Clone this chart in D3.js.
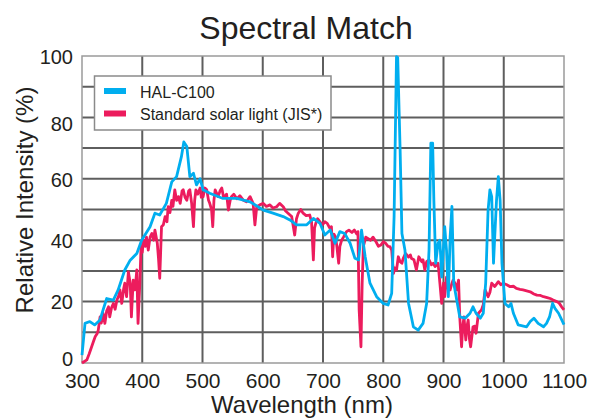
<!DOCTYPE html>
<html>
<head>
<meta charset="utf-8">
<script src="https://cdn.jsdelivr.net/npm/d3@7"></script>
<style>
  html, body { margin: 0; padding: 0; background: #fff; }
  svg { display: block; }
  text { font-family: "Liberation Sans", Arial, sans-serif; fill: #231f20; }
</style>
</head>
<body>
<svg id="chart" width="599" height="418"></svg>
<script>
// ---- data ----
const xTicks = [300, 400, 500, 600, 700, 800, 900, 1000, 1100];
const yTicks = [0, 20, 40, 60, 80, 100];
const seriesNames = ["HAL-C100", "Standard solar light (JIS*)"];

const halWavelength = [300,305,313,321,330,335,341,352,360,371,380,391,399,413,421,429,440,449,457,465,469,474,479,485,490,496,501,512,534,557,579,601,617,634,645,656,673,684,695,703,712,720,728,736,745,753,759,764,770,778,789,800,808,814,818,822,824,828,831,836,842,850,858,866,872,876,879,882,884,887,891,894,897,900,902,905,908,911,914,917,922,927,936,944,949,954,961,966,970,974,977,980,983,985,988,991,994,997,1002,1008,1012,1016,1024,1038,1044,1050,1057,1066,1071,1076,1081,1085,1091,1099,1100];
const halIntensity = [2.6,12.9,13.5,12.4,14,17.3,21,20.5,23.8,30.3,33.5,35.7,40,44.4,48.8,48.2,52,59,60.7,67.2,72,70.5,60.7,61.8,58,60,56.4,55.3,53.6,53.6,52.5,49.8,48.8,47.7,46.6,45,45,47.1,45.5,41.7,43.3,39,42.8,42.2,39,34.1,33.6,43.3,34.6,26,21.6,19.4,18.9,22.7,47.7,99.8,99.5,69.4,42.2,36.8,19.4,11.8,10.7,12.9,19.4,36.8,71.6,71.6,53,32.5,39,40,28,37.9,44.4,36.8,21.6,41,51,26,20.5,15,14.6,16.2,18.3,16.2,14.6,16.2,26,49.8,56.4,54.2,32.5,41,53,60.7,53,32.5,19.4,18.3,19.4,16.2,12.4,11.8,13.5,14.6,12.9,11.8,12.9,15,19.4,17.8,16.2,12.9,12.5];

const jisWavelength = [300,304,308,312,316,319,322,325,327,330,332,335,338,341,344,346,349,352,355,358,361,363,366,369,371,374,377,380,382,385,388,391,393,396,398,400,402,405,407,410,413,416,419,421,425,427,429,432,435,438,441,443,446,449,451,454,457,460,463,466,468,471,474,477,479,482,485,487,489,492,496,498,501,504,507,510,512,515,517,519,521,524,526,529,532,535,537,540,543,546,548,552,557,562,568,573,579,584,587,590,595,601,606,612,617,623,628,634,638,642,648,653,656,659,663,667,672,678,681,684,686,688,691,695,699,703,707,711,714,716,718,721,723,726,728,731,734,739,743,748,752,756,758,760,763,765,767,771,775,779,783,788,792,796,800,804,808,811,814,817,819,822,825,828,831,833,837,842,845,847,851,855,859,864,866,869,872,876,880,883,886,891,894,897,900,902,905,908,911,914,916,919,922,925,927,930,932,934,937,939,941,943,945,949,952,954,958,963,966,969,974,977,980,985,991,995,999,1005,1010,1016,1021,1027,1032,1038,1044,1050,1055,1061,1066,1072,1077,1082,1088,1092,1096,1100];
const jisIntensity = [0,0.5,1,3,5.3,7,8.6,9.5,10.7,15,13,16.2,12.9,17,18.3,15,18,19.4,17.5,20.5,22,23.8,19.4,24,26,21.6,29.7,26,15,27,23.8,30.3,12.9,26,37.9,36,40,38,41,36.8,41,42.2,40,43.3,39,34,27.6,44.4,45,47.7,46,50.9,49,53,51,56.4,53,54.2,52,56,56.4,54,53,56,56.4,52,44.4,53,56.4,55,57,54,54.2,57,56.4,53,52,50,44.4,53,56.4,55,54.2,56,57,54,54.2,55,49.8,53,54.2,55,53.5,54.5,53,52.5,54.2,52,45,50.9,51.5,52,51,51.5,50.5,50.9,52,50.9,49.5,48.8,47.7,41.7,47,48.8,50,48.8,48,48.2,46,33.6,44,45.5,47,46,45,46,45.5,44,44.4,34.6,42,41,38,32.5,38,40,41,42.8,43.3,42.5,43.3,42,42.8,17.3,5.3,26,38,41,40.5,40,41,39.5,38,38.4,39.5,39,38,37.9,36.8,29.2,31,30.3,34.6,33,32.5,34,35.7,34.5,35.2,34,33.6,30.3,34.6,33,33.6,30.3,33,33.6,32,32.5,31.4,32.5,26,19.4,26,21.6,28,24,23.8,26,27,26,23.8,27,15,5.3,12,15,7.5,12,14,8,5.3,11.8,12,9.7,16.2,17.3,19,23.8,21.6,23,26,24.9,26.5,25.5,26,25.5,24.9,25,24.3,24,23.8,23.5,23.2,22.5,22.1,22,21.6,21.3,21,20.5,20,19.5,18.3,17.3];

const colors = ["#00aeef", "#ec1c5d"];

// ---- layout ----
const svg = d3.select("#chart");
const L = 82, T = 56, R = 564, B = 363;
const x = d3.scaleLinear().domain([300, 1100]).range([L, R]);
const y = d3.scaleLinear().domain([0, 100]).range([B, T]);

// grid
const grid = svg.append("g");
grid.selectAll("line.v").data(d3.range(400, 1100, 100)).join("line")
  .attr("x1", d => x(d)).attr("x2", d => x(d)).attr("y1", T).attr("y2", B)
  .attr("stroke", "#5e5e5e").attr("stroke-width", 2);
grid.selectAll("line.h").data(d3.range(10, 100, 10)).join("line")
  .attr("y1", d => y(d)).attr("y2", d => y(d)).attr("x1", L).attr("x2", R)
  .attr("stroke", "#5e5e5e").attr("stroke-width", 2);
svg.append("rect").attr("x", L).attr("y", T).attr("width", R - L).attr("height", B - T)
  .attr("fill", "none").attr("stroke", "#9a9a9a").attr("stroke-width", 1.5);

// lines
const line = d3.line().x(d => x(d[0])).y(d => y(d[1])).curve(d3.curveLinear);
const jis = jisWavelength.map((w, i) => [w, jisIntensity[i]]);
const hal = halWavelength.map((w, i) => [w, halIntensity[i]]);
svg.append("path").datum(jis).attr("d", line).attr("fill", "none")
  .attr("stroke", colors[1]).attr("stroke-width", 2.8).attr("stroke-linejoin", "round");
svg.append("path").datum(hal).attr("d", line).attr("fill", "none")
  .attr("stroke", colors[0]).attr("stroke-width", 2.8).attr("stroke-linejoin", "round");

// axes labels
const xAxis = d3.axisBottom(x).tickValues(xTicks).tickFormat(d3.format("d")).tickSize(0).tickPadding(0);
const gx = svg.append("g").attr("transform", `translate(0,${B})`).call(xAxis);
gx.select(".domain").remove();
gx.selectAll("text").attr("y", 25).attr("dy", 0).style("font-size", "21px")
  .style("font-family", '"Liberation Sans", Arial, sans-serif').attr("fill", "#231f20");

const yLabelShift = { 0: -5, 80: 6 };
const yAxis = d3.axisLeft(y).tickValues(yTicks).tickFormat(d3.format("d")).tickSize(0).tickPadding(0);
const gy = svg.append("g").attr("transform", `translate(${L},0)`).call(yAxis);
gy.select(".domain").remove();
gy.selectAll("text").attr("x", -9).attr("y", d => yLabelShift[d] || 0).attr("dy", "0.36em")
  .style("font-size", "20px")
  .style("font-family", '"Liberation Sans", Arial, sans-serif').attr("fill", "#231f20");

svg.append("text").attr("x", 306).attr("y", 39).attr("text-anchor", "middle")
  .style("font-size", "32px").text("Spectral Match");
svg.append("text").attr("x", 302).attr("y", 413).attr("text-anchor", "middle")
  .style("font-size", "24px").text("Wavelength (nm)");
svg.append("text").attr("transform", "translate(33,200) rotate(-90)").attr("text-anchor", "middle")
  .style("font-size", "24px").text("Relative Intensity (%)");

// legend
const lg = svg.append("g");
lg.append("rect").attr("x", 94.5).attr("y", 76).attr("width", 236.5).attr("height", 54)
  .attr("fill", "#fff").attr("stroke", "#8a8a8a").attr("stroke-width", 1.5);
seriesNames.forEach((n, i) => {
  const yy = 91 + i * 22.5;
  lg.append("line").attr("x1", 104).attr("x2", 126).attr("y1", yy).attr("y2", yy)
    .attr("stroke", colors[i]).attr("stroke-width", 6);
  lg.append("text").attr("x", 140).attr("y", yy + 6.5).style("font-size", "16px").text(n);
});
</script>
</body>
</html>
